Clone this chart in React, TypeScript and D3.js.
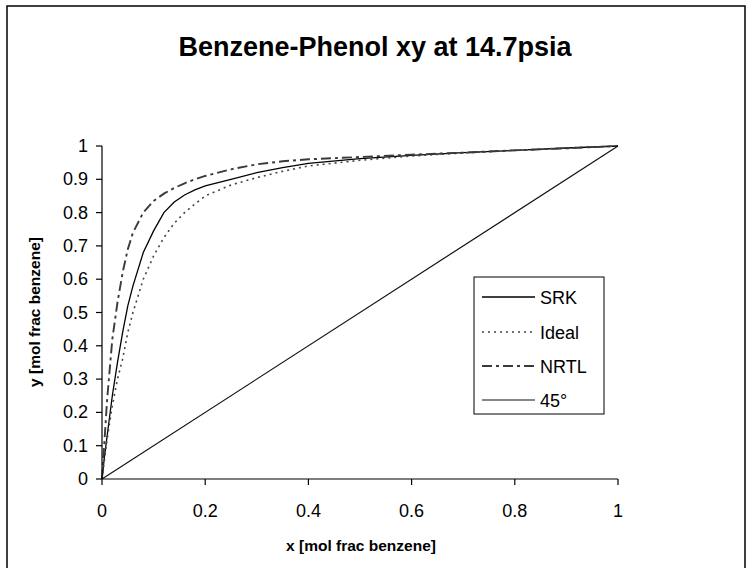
import React from "react";
import * as d3 from "d3";

const xGrid = [0, 0.005, 0.01, 0.02, 0.03, 0.04, 0.05, 0.06, 0.08, 0.1, 0.12, 0.14, 0.16, 0.18, 0.2, 0.25, 0.3, 0.35, 0.4, 0.5, 0.6, 0.7, 0.8, 0.9, 1.0];
const ySRK = [0, 0.07, 0.13, 0.25, 0.35, 0.44, 0.52, 0.58, 0.68, 0.745, 0.8, 0.832, 0.853, 0.868, 0.88, 0.9, 0.92, 0.935, 0.948, 0.962, 0.972, 0.98, 0.987, 0.994, 1.0];
const yIdeal = [0, 0.06, 0.12, 0.22, 0.3, 0.36, 0.44, 0.5, 0.6, 0.67, 0.725, 0.768, 0.8, 0.826, 0.85, 0.883, 0.905, 0.924, 0.94, 0.957, 0.97, 0.979, 0.987, 0.994, 1.0];
const yNRTL = [0, 0.12, 0.24, 0.42, 0.53, 0.62, 0.69, 0.74, 0.8, 0.835, 0.857, 0.874, 0.888, 0.9, 0.91, 0.93, 0.945, 0.954, 0.96, 0.967, 0.974, 0.98, 0.987, 0.993, 1.0];
const x45 = [0, 1];
const y45 = [0, 1];

const xTicks = [0, 0.2, 0.4, 0.6, 0.8, 1];
const yTicks = [0, 0.1, 0.2, 0.3, 0.4, 0.5, 0.6, 0.7, 0.8, 0.9, 1];
const legendLabels = ["SRK", "Ideal", "NRTL", "45°"];

const W = 751;
const H = 568;
const FONT = "'Liberation Sans', Arial, sans-serif";

export default function App() {
  const xs = d3.scaleLinear().domain([0, 1]).range([102, 618]);
  const ys = d3.scaleLinear().domain([0, 1]).range([479, 146]);
  const line = d3
    .line<[number, number]>()
    .x((d) => xs(d[0]))
    .y((d) => ys(d[1]));
  const zip = (a: number[], b: number[]) => a.map((v, i) => [v, b[i]] as [number, number]);

  const series = [
    { name: legendLabels[0], x: xGrid, y: ySRK, stroke: "#000", width: 1.3, dash: undefined as string | undefined },
    { name: legendLabels[1], x: xGrid, y: yIdeal, stroke: "#444", width: 1.6, dash: "2,4" },
    { name: legendLabels[2], x: xGrid, y: yNRTL, stroke: "#3a3a3a", width: 1.9, dash: "10,4,3,4" },
    { name: legendLabels[3], x: x45, y: y45, stroke: "#111", width: 1.2, dash: undefined },
  ];

  const legX = 474;
  const legY = 277;
  const legRowY = [297, 332, 366, 400];

  return (
    <svg
      width={W}
      height={H}
      style={{ position: "absolute", left: 0, top: 0, background: "#fff" }}
      fontFamily={FONT}
    >
      <rect x={7} y={6} width={738} height={570} fill="#fff" stroke="#000" strokeWidth={1.5} />
      <text x={375} y={56} textAnchor="middle" fontSize={27} fontWeight="bold">
        Benzene-Phenol xy at 14.7psia
      </text>

      {series.map((s) => (
        <path
          key={s.name}
          d={line(zip(s.x, s.y)) || ""}
          fill="none"
          stroke={s.stroke}
          strokeWidth={s.width}
          strokeDasharray={s.dash}
        />
      ))}

      {/* axes */}
      <line x1={xs(0)} x2={xs(1)} y1={ys(0)} y2={ys(0)} stroke="#000" strokeWidth={1.2} />
      <line x1={xs(0)} x2={xs(0)} y1={ys(0)} y2={ys(1)} stroke="#000" strokeWidth={1.2} />
      {yTicks.map((t) => (
        <g key={"y" + t}>
          <line x1={xs(0) - 6} x2={xs(0)} y1={ys(t)} y2={ys(t)} stroke="#000" strokeWidth={1.2} />
          <text x={88} y={ys(t) + 6} textAnchor="end" fontSize={18}>
            {String(t)}
          </text>
        </g>
      ))}
      {xTicks.map((t) => (
        <g key={"x" + t}>
          <line x1={xs(t)} x2={xs(t)} y1={ys(0)} y2={ys(0) + 6} stroke="#000" strokeWidth={1.2} />
          <text x={xs(t)} y={517} textAnchor="middle" fontSize={18}>
            {String(t)}
          </text>
        </g>
      ))}
      <text x={361} y={551} textAnchor="middle" fontSize={15.5} fontWeight="bold">
        x [mol frac benzene]
      </text>
      <text
        transform={`translate(40,312) rotate(-90)`}
        textAnchor="middle"
        fontSize={15.5}
        fontWeight="bold"
      >
        y [mol frac benzene]
      </text>

      {/* legend */}
      <rect x={legX} y={legY} width={130} height={137} fill="#fff" stroke="#000" strokeWidth={1} />
      {series.map((s, i) => (
        <g key={"leg" + s.name}>
          <line
            x1={482}
            x2={535}
            y1={legRowY[i]}
            y2={legRowY[i]}
            stroke={s.stroke}
            strokeWidth={s.width}
            strokeDasharray={s.dash}
          />
          <text x={540} y={legRowY[i] + 6.5} fontSize={18}>
            {s.name}
          </text>
        </g>
      ))}
    </svg>
  );
}
